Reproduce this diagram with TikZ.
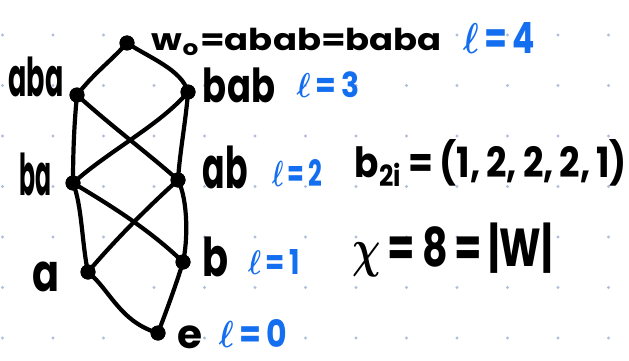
\documentclass[tikz,border=0pt]{standalone}
\usepackage{fontspec}
\setmainfont{Poppins}
\definecolor{inkblue}{RGB}{20,110,240}
\definecolor{griddot}{RGB}{175,190,220}
\newcommand{\fitbox}[3]{\resizebox*{#1}{#2}{#3}}
\newcommand{\ellb}{\boldmath$\ell$\unboldmath}
\begin{document}
\begin{tikzpicture}[x=1pt,y=-1pt,
  vtx/.style={circle,fill=black,minimum size=15pt,inner sep=0pt},
  edge/.style={line width=4.2pt,line cap=round,black},
  lab/.style={inner sep=0pt,text=black,font=\bfseries},
  len/.style={inner sep=0pt,text=inkblue,font=\bfseries}]
\useasboundingbox (0,0) rectangle (629,361);
\fill[white] (0,0) rectangle (629,361);
% grid dots
\foreach \i in {0,...,12}{
  \foreach \j in {0,...,6}{
    \fill[griddot] ({2.5+50.5*\i},{35+50.5*\j}) circle (1.6);
  }
}
% vertices
\node[vtx] (w0) at (127,43) {};
\node[vtx] (aba) at (77,95) {};
\node[vtx] (bab) at (188,92) {};
\node[vtx] (ba) at (73,183) {};
\node[vtx] (ab) at (178,180) {};
\node[vtx] (a) at (88,272) {};
\node[vtx] (b) at (183,262) {};
\node[vtx] (e) at (158,333) {};
% edges
\draw[edge] (w0.center) .. controls (110,62) and (95,72) .. (aba.center);
\draw[edge] (w0.center) .. controls (150,58) and (182,70) .. (bab.center);
\draw[edge] (aba.center) .. controls (74,125) and (73,155) .. (ba.center);
\draw[edge] (aba.center) .. controls (110,125) and (150,155) .. (ab.center);
\draw[edge] (bab.center) .. controls (160,125) and (110,150) .. (ba.center);
\draw[edge] (bab.center) .. controls (186,120) and (180,150) .. (ab.center);
\draw[edge] (ba.center) .. controls (82,205) and (82,245) .. (a.center);
\draw[edge] (ba.center) .. controls (110,205) and (150,230) .. (b.center);
\draw[edge] (ab.center) .. controls (150,205) and (115,240) .. (a.center);
\draw[edge] (ab.center) .. controls (188,200) and (188,240) .. (b.center);
\draw[edge] (a.center) .. controls (110,290) and (120,322) .. (e.center);
\draw[edge] (b.center) .. controls (176,285) and (166,312) .. (e.center);
% redraw vertices on top
\foreach \v in {w0,aba,bab,ba,ab,a,b,e}{\fill (\v) circle (7.5);}
% labels
\node[lab] (tw0) at (297,42) {\fitbox{290pt}{27pt}{w\textsubscript{o}=abab=baba}};
\node[len] (l4) at (499,38) {\fitbox{72pt}{31pt}{\ellb\,=\,4}};
\node[lab] (taba) at (36,77) {\fitbox{55pt}{40pt}{aba}};
\node[lab] (tbab) at (239,85) {\fitbox{72pt}{35pt}{bab}};
\node[len] (l3) at (328,85) {\fitbox{63pt}{26pt}{\ellb\,=\,3}};
\node[lab] (tba) at (36,174) {\fitbox{32pt}{43pt}{ba}};
\node[lab] (tab) at (225,167) {\fitbox{45pt}{43pt}{ab}};
\node[len] (l2) at (297,173) {\fitbox{50pt}{27pt}{\ellb\,=\,2}};
\node[lab] (bvec) at (491,163) {\fitbox{272pt}{47pt}{b\textsubscript{2i}\,=\,(1,\,2,\,2,\,2,\,1)}};
\node[lab] (ta) at (46,277) {\fitbox{27pt}{30pt}{a}};
\node[lab] (tb) at (215,257) {\fitbox{26pt}{40pt}{b}};
\node[len] (l1) at (274,262) {\fitbox{52pt}{25pt}{\ellb\,=\,1}};
\node[lab] (chi) at (453,250) {\fitbox{200pt}{54pt}{\boldmath$\chi$\unboldmath\,=\,8\,=\,|W|}};
\node[lab] (te) at (190,337) {\fitbox{25pt}{23pt}{e}};
\node[len] (l0) at (253,333) {\fitbox{68pt}{28pt}{\ellb\,=\,0}};
\end{tikzpicture}
\end{document}
